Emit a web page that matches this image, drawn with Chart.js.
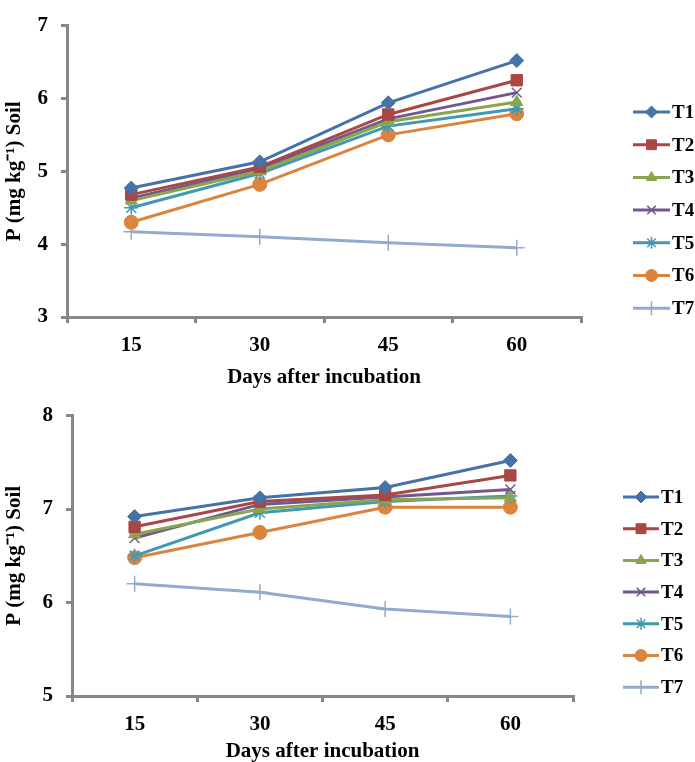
<!DOCTYPE html>
<html>
<head>
<meta charset="utf-8">
<script src="https://cdn.jsdelivr.net/npm/chart.js@4/dist/chart.umd.min.js"></script>
<style>
  body { margin: 0; background: #fff; }
  #wrap { position: relative; width: 695px; height: 762px; }
  canvas { position: absolute; left: 0; }
  #graficoA { top: 0; }
  #graficoB { top: 390px; }
</style>
</head>
<body>
<div id="wrap">
  <canvas id="graficoA" width="695" height="390"></canvas>
  <canvas id="graficoB" width="695" height="372"></canvas>
</div>
<script>
const dias = ['15', '30', '45', '60'];
const tratamentos = ['T1', 'T2', 'T3', 'T4', 'T5', 'T6', 'T7'];

// first chart
const a_T1 = [4.77, 5.13, 5.94, 6.52];
const a_T2 = [4.68, 5.06, 5.78, 6.25];
const a_T3 = [4.60, 5.00, 5.68, 5.95];
const a_T4 = [4.63, 5.04, 5.72, 6.08];
const a_T5 = [4.50, 4.97, 5.62, 5.86];
const a_T6 = [4.30, 4.82, 5.50, 5.79];
const a_T7 = [4.17, 4.10, 4.02, 3.95];

// second chart
const b_T1 = [6.92, 7.12, 7.23, 7.52];
const b_T2 = [6.81, 7.08, 7.15, 7.36];
const b_T3 = [6.73, 7.00, 7.10, 7.12];
const b_T4 = [6.69, 7.05, 7.13, 7.21];
const b_T5 = [6.50, 6.96, 7.08, 7.14];
const b_T6 = [6.48, 6.75, 7.02, 7.02];
const b_T7 = [6.20, 6.11, 5.93, 5.85];

const cores = ['#4572A7', '#AA4643', '#89A54E', '#71588F', '#4198AF', '#DB843D', '#93A9CF'];
const marcadores = ['rectRot', 'rect', 'triangle', 'crossRot', 'star', 'circle', 'cross'];
const raios = [7, 8, 7, 7, 7, 7, 8];
const bordas = [1, 1, 1, 1.5, 1.5, 1, 1.5];

const fonte = 'Liberation Serif, Times New Roman, serif';
const cinza = '#878787';

function montaDatasets(series) {
    return series.map((valores, i) => ({
        label: tratamentos[i],
        data: valores,
        borderColor: cores[i],
        backgroundColor: cores[i],
        borderWidth: 3,
        tension: 0,
        pointStyle: marcadores[i],
        pointRadius: raios[i],
        pointHoverRadius: raios[i],
        pointBorderWidth: bordas[i]
    }));
}

// legend on the right: line with the marker in the middle
const legendaLateral = {
    id: 'legendaLateral',
    afterDraw(chart, args, opts) {
        const ctx = chart.ctx;
        chart.data.datasets.forEach((ds, i) => {
            const y = opts.top + i * opts.gap;
            const x0 = opts.left;
            const x1 = opts.left + opts.lineLen;
            ctx.save();
            ctx.strokeStyle = ds.borderColor;
            ctx.lineWidth = 3;
            ctx.beginPath();
            ctx.moveTo(x0, y);
            ctx.lineTo(x1, y);
            ctx.stroke();
            ctx.fillStyle = ds.backgroundColor;
            ctx.lineWidth = ds.pointBorderWidth;
            Chart.helpers.drawPoint(ctx, {
                pointStyle: ds.pointStyle,
                radius: ds.pointRadius - 1,
                rotation: 0,
                borderWidth: ds.pointBorderWidth
            }, (x0 + x1) / 2, y);
            ctx.fillStyle = '#000';
            ctx.font = 'bold 19px ' + fonte;
            ctx.textBaseline = 'middle';
            ctx.textAlign = 'left';
            ctx.fillText(ds.label, x1 + 2, y + 1);
            ctx.restore();
        });
    }
};

function criaGrafico(el, series, cfg) {
    return new Chart(el, {
        type: 'line',
        data: { labels: dias, datasets: montaDatasets(series) },
        options: {
            responsive: false,
            animation: false,
            layout: { padding: { top: cfg.padTop, right: cfg.padRight, bottom: 0, left: 0 } },
            plugins: {
                legend: { display: false },
                tooltip: { enabled: false },
                legendaLateral: cfg.legenda
            },
            scales: {
                x: {
                    offset: true,
                    grid: { offset: true, drawOnChartArea: false, color: cinza, lineWidth: 3, tickLength: 6 },
                    border: { color: cinza, width: 3 },
                    ticks: { color: '#000', padding: 10, font: { family: fonte, size: 21, weight: 'bold' } },
                    title: {
                        display: true,
                        text: 'Days after incubation',
                        color: '#000',
                        padding: { top: 0, bottom: cfg.titleBottom },
                        font: { family: fonte, size: 21, weight: 'bold', lineHeight: 1 }
                    },
                    afterFit: s => { s.height = cfg.xHeight; }
                },
                y: {
                    min: cfg.min,
                    max: cfg.max,
                    grid: { drawOnChartArea: false, color: cinza, lineWidth: 3, tickLength: 6 },
                    border: { color: cinza, width: 3 },
                    ticks: { stepSize: 1, color: '#000', padding: 13, font: { family: fonte, size: 21, weight: 'bold' } },
                    title: {
                        display: true,
                        text: 'P (mg kg\u207B\u00B9) Soil',
                        color: '#000',
                        padding: { top: 4, bottom: 0 },
                        font: { family: fonte, size: 21, weight: 'bold', lineHeight: 1 }
                    },
                    afterFit: s => { s.width = cfg.yWidth; }
                }
            }
        },
        plugins: [legendaLateral]
    });
}

const graficoA = criaGrafico(document.getElementById('graficoA'),
    [a_T1, a_T2, a_T3, a_T4, a_T5, a_T6, a_T7],
    { min: 3, max: 7, padTop: 23, padRight: 114, xHeight: 73, yWidth: 67, titleBottom: 2,
      legenda: { left: 633, top: 112, gap: 32.7, lineLen: 37 } });

const graficoB = criaGrafico(document.getElementById('graficoB'),
    [b_T1, b_T2, b_T3, b_T4, b_T5, b_T6, b_T7],
    { min: 5, max: 8, padTop: 23, padRight: 122, xHeight: 66, yWidth: 72, titleBottom: 0,
      legenda: { left: 623, top: 107, gap: 31.7, lineLen: 36 } });
</script>
</body>
</html>
